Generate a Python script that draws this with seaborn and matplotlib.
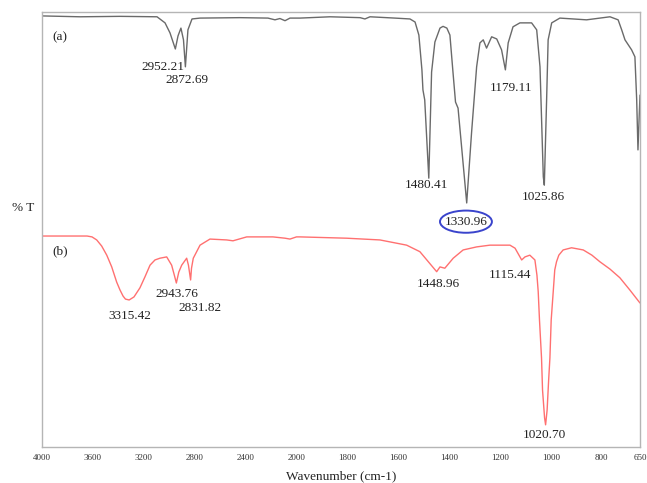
import numpy as np
import pandas as pd
import matplotlib
matplotlib.use("Agg")
import matplotlib.pyplot as plt
from matplotlib.patches import Ellipse
import seaborn as sns

# ---- data (wavenumber, %T arbitrary units) ----
wn_a = [4000, 3701, 3387, 3096, 3033, 2994, 2952, 2931, 2908, 2888, 2873, 2853, 2821,
        2758, 2444, 2224, 2169, 2130, 2090, 2051, 1986, 1868, 1750, 1731, 1711, 1613,
        1554, 1534, 1519, 1507, 1503, 1496, 1480, 1469, 1456, 1436, 1424, 1409, 1397,
        1385, 1375, 1365, 1350, 1331, 1312, 1292, 1279, 1266, 1253, 1233, 1213, 1194,
        1179, 1168, 1149, 1122, 1076, 1056, 1043, 1030, 1026, 1017, 1011, 997, 965,
        860, 768, 736, 722, 709, 683, 670, 663, 658, 650]
t_a = [99.1, 98.9, 99.0, 98.9, 97.5, 95.2, 91.5, 94.5, 96.3, 93.6, 87.4, 95.9, 98.4,
       98.6, 98.7, 98.6, 98.2, 98.5, 98.0, 98.6, 98.6, 98.9, 98.7, 98.4, 98.9, 98.6,
       98.4, 97.7, 94.7, 86.7, 82.1, 79.8, 61.8, 86.2, 93.1, 96.3, 96.7, 96.3, 94.7,
       86.2, 79.3, 77.9, 68.3, 56.1, 72.2, 87.4, 92.9, 93.6, 91.7, 94.3, 93.8, 91.3,
       86.7, 92.9, 96.6, 97.5, 97.5, 95.9, 87.4, 62.1, 60.2, 79.8, 93.6, 97.5, 98.6,
       98.2, 98.9, 98.2, 95.9, 93.6, 91.3, 89.7, 79.8, 68.3, 80.9]

wn_b = [4000, 3646, 3607, 3570, 3531, 3491, 3452, 3413, 3387, 3363, 3344, 3315, 3277,
        3230, 3191, 3151, 3112, 3073, 3020, 2981,
        2960, 2944, 2925, 2902, 2863, 2849, 2832, 2825, 2811, 2758, 2680, 2548, 2499,
        2391, 2185, 2090, 2051, 2000, 1986, 1803, 1672, 1567, 1515, 1482, 1449, 1436,
        1417, 1384, 1345, 1292, 1240, 1161, 1141, 1115, 1102, 1083, 1063, 1055, 1050,
        1045, 1037, 1033, 1025, 1021, 1015, 1009, 1004, 999, 991, 985, 978, 969, 952,
        919, 873, 839, 808, 768, 729, 690, 650]
t_b = [48.5, 48.5, 48.3, 47.6, 46.2, 44.1, 41.4, 37.9, 36.1, 34.7, 34.0, 33.8, 34.5,
       36.6, 39.1, 41.8, 43.0, 43.4, 43.7, 41.8,
       39.5, 37.7, 40.2, 41.8, 43.4, 41.8, 38.4, 41.1, 43.4, 46.4, 47.8, 47.6, 47.4,
       48.3, 48.3, 48.0, 47.8, 48.3, 48.3, 48.0, 47.6, 46.4, 44.9, 42.6, 40.3, 41.4,
       41.1, 43.4, 45.3, 46.0, 46.4, 46.4, 45.7, 43.0, 43.7, 44.1, 43.0, 39.5, 35.7,
       29.2, 20.5, 13.1, 6.7, 5.1, 8.5, 15.4, 20.5, 29.2, 35.7, 40.7, 42.6, 44.1, 45.3,
       45.8, 45.3, 44.1, 42.6, 40.9, 38.9, 36.1, 33.1]

tick_values = [4000, 3600, 3200, 2800, 2400, 2000, 1800, 1600, 1400, 1200, 1000, 800, 650]
tick_labels = ["4000", "3600", "3200", "2800", "2400", "2000", "1800", "1600",
               "1400", "1200", "1000", "800", "650"]

peak_labels = ["2952.21", "2872.69", "1480.41", "1330.96", "1179.11", "1025.86",
               "3315.42", "2943.76", "2831.82", "1448.96", "1115.44", "1020.70"]
peak_label_x = [3047, 2863, 1488, 1334, 1156, 1028, 3308, 2941, 2758, 1443, 1160, 1024]
peak_label_y = [87.4, 84.4, 60.2, 51.8, 82.5, 57.5, 30.0, 35.2, 31.9, 37.4, 39.5, 2.8]

# ---- plotting ----
sns.set_style("white")
plt.rcParams["font.family"] = ["Liberation Serif", "DejaVu Serif"]

df_a = pd.DataFrame({"wn": wn_a, "T": t_a})
df_b = pd.DataFrame({"wn": wn_b, "T": t_b})

fig = plt.figure(figsize=(6.47, 4.83), dpi=100)
ax = fig.add_axes([42 / 647, 1 - 447 / 483, 598 / 647, 435 / 483])


def fwd(x):
    x = np.asarray(x, dtype=float)
    return np.where(x > 2000, 2000 + (x - 2000) / 2.0, x)


def inv(s):
    s = np.asarray(s, dtype=float)
    return np.where(s > 2000, 2000 + (s - 2000) * 2.0, s)


ax.set_xscale("function", functions=(fwd, inv))

sns.lineplot(data=df_a, x="wn", y="T", ax=ax, color="#6a6a6a", lw=1.0,
             estimator=None, sort=False)
sns.lineplot(data=df_b, x="wn", y="T", ax=ax, color="#ff7070", lw=1.0,
             estimator=None, sort=False)

ax.set_xlim(4000, 650)
ax.set_ylim(0, 100)
ax.set_xticks(tick_values)
ax.set_xticklabels(tick_labels, fontsize=6.5, color="#333333")
ax.xaxis.set_minor_locator(matplotlib.ticker.NullLocator())
ax.set_yticks([30.1])
ax.set_yticklabels([""])
ax.tick_params(axis="both", length=2, width=0.8, color="#888888", pad=3)

for sp in ax.spines.values():
    sp.set_color("#b5b5b5")
    sp.set_linewidth(1.0)

ax.set_xlabel("Wavenumber (cm-1)", fontsize=9.5, color="#222222", labelpad=6)
ax.set_ylabel("% T", fontsize=9.5, color="#222222", rotation=0, ha="center", va="center")
ax.yaxis.set_label_coords(-0.032, 0.549)

ax.text(3859, 94.3, "(a)", fontsize=9.5, ha="center", va="center", color="#222222")
ax.text(3859, 44.9, "(b)", fontsize=9.5, ha="center", va="center", color="#222222")

for lab, x, y in zip(peak_labels, peak_label_x, peak_label_y):
    ax.text(x, y, lab, fontsize=9.5, ha="center", va="center", color="#222222")

ax.add_patch(Ellipse((1334, 51.8), width=204, height=5.1, fill=False,
                     edgecolor="#3a44cc", lw=1.4))

fig.savefig("out.png", dpi=100)
